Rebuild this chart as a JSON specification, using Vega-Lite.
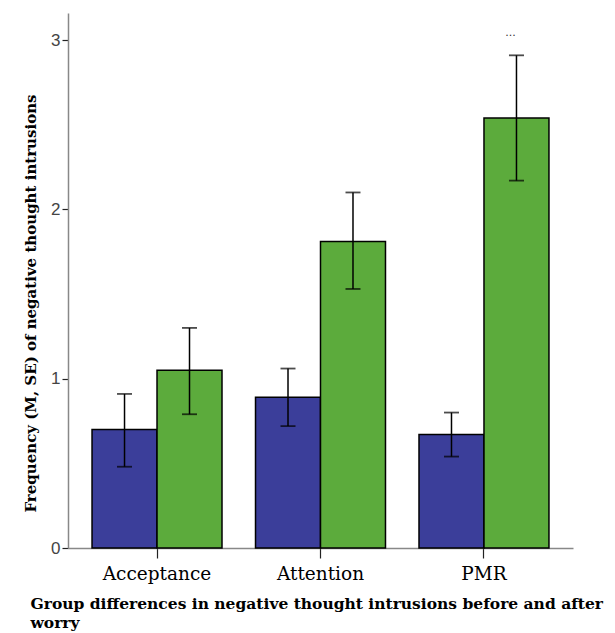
{
  "$schema": "https://vega.github.io/schema/vega-lite/v6.json",
  "autosize": "none",
  "width": 505,
  "height": 535,
  "padding": {"left": 68, "top": 13, "right": 42, "bottom": 85},
  "background": "white",
  "config": {"view": {"stroke": null}},
  "data": {
    "values": [
      {"group": "Acceptance", "time": "Before", "mean": 0.70, "lower": 0.48, "upper": 0.91, "sig": ""},
      {"group": "Acceptance", "time": "After", "mean": 1.05, "lower": 0.79, "upper": 1.30, "sig": ""},
      {"group": "Attention", "time": "Before", "mean": 0.89, "lower": 0.72, "upper": 1.06, "sig": ""},
      {"group": "Attention", "time": "After", "mean": 1.81, "lower": 1.53, "upper": 2.10, "sig": ""},
      {"group": "PMR", "time": "Before", "mean": 0.67, "lower": 0.54, "upper": 0.80, "sig": ""},
      {"group": "PMR", "time": "After", "mean": 2.54, "lower": 2.17, "upper": 2.91, "sig": "..."}
    ]
  },
  "encoding": {
    "x": {
      "field": "group",
      "type": "nominal",
      "sort": ["Acceptance", "Attention", "PMR"],
      "scale": {"paddingInner": 0.205, "paddingOuter": 0.147},
      "axis": {
        "title": ["Group differences in negative thought intrusions before and after", "worry"],
        "titleFont": "DejaVu Serif",
        "titleFontWeight": "bold",
        "titleFontSize": 15.5,
        "titleColor": "black",
        "titleAnchor": "start",
        "titleAlign": "left",
        "titleBaseline": "middle",
        "titleX": -38,
        "titleY": 55,
        "titleLineHeight": 19,
        "labelAngle": 0,
        "labelFont": "DejaVu Serif",
        "labelFontSize": 18.5,
        "labelColor": "black",
        "labelPadding": 6,
        "labelBaseline": "top",
        "tickSize": 10,
        "tickColor": "#222",
        "tickWidth": 1.2,
        "domainColor": "#888",
        "domainWidth": 1.5
      }
    },
    "xOffset": {
      "field": "time",
      "type": "nominal",
      "sort": ["Before", "After"],
      "scale": {"paddingInner": 0, "paddingOuter": 0}
    }
  },
  "layer": [
    {
      "mark": {"type": "bar", "stroke": "black", "strokeWidth": 1.5},
      "encoding": {
        "y": {
          "field": "mean",
          "type": "quantitative",
          "scale": {"domain": [0, 3.16], "nice": false},
          "axis": {
            "title": "Frequency (M, SE) of negative thought intrusions",
            "titleFont": "DejaVu Serif",
            "titleFontWeight": "bold",
            "titleFontSize": 15,
            "titleColor": "black",
            "titleAngle": -90,
            "titleAlign": "center",
            "titleBaseline": "middle",
            "titleX": -38,
            "titleY": 290,
            "values": [0, 1, 2, 3],
            "format": "d",
            "grid": false,
            "labelFont": "Liberation Sans",
            "labelFontSize": 17,
            "labelColor": "#444",
            "labelPadding": 2,
            "tickSize": 6,
            "tickColor": "#222",
            "tickWidth": 1.2,
            "domainColor": "#888",
            "domainWidth": 1.5
          }
        },
        "color": {
          "field": "time",
          "type": "nominal",
          "scale": {"domain": ["Before", "After"], "range": ["#3b3e9a", "#5cab3c"]},
          "legend": null
        }
      }
    },
    {
      "mark": {"type": "rule", "color": "black", "strokeWidth": 1.5},
      "encoding": {
        "y": {"field": "lower", "type": "quantitative"},
        "y2": {"field": "upper"}
      }
    },
    {
      "mark": {"type": "tick", "color": "black", "thickness": 1.8, "size": 15},
      "encoding": {
        "y": {"field": "lower", "type": "quantitative"}
      }
    },
    {
      "mark": {"type": "tick", "color": "black", "thickness": 1.8, "size": 15},
      "encoding": {
        "y": {"field": "upper", "type": "quantitative"}
      }
    },
    {
      "transform": [{"filter": "datum.sig != ''"}],
      "mark": {"type": "text", "font": "DejaVu Sans", "fontSize": 11, "dy": -22, "dx": -6, "color": "#333"},
      "encoding": {
        "y": {"field": "upper", "type": "quantitative"},
        "text": {"field": "sig"}
      }
    }
  ]
}
